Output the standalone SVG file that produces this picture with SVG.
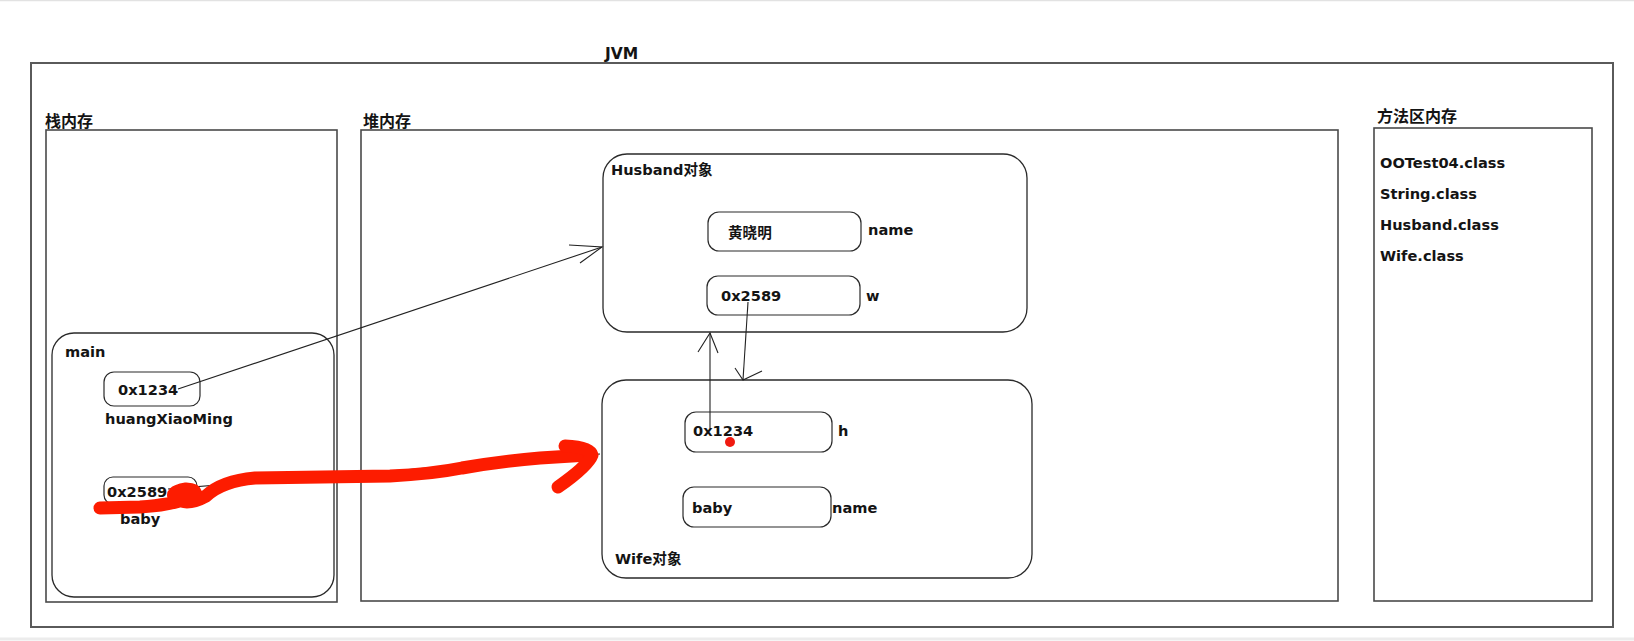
<svg xmlns="http://www.w3.org/2000/svg" width="1634" height="641" viewBox="0 0 1634 641">
<defs>
<style>
.frame{fill:none;stroke:#5a5a5a;stroke-width:2}
.area{fill:none;stroke:#4a4a4a;stroke-width:1.6}
.obj{fill:none;stroke:#2a2a2a;stroke-width:1.3}
.cell{fill:#fff;stroke:#2a2a2a;stroke-width:1.2}
.t{font-family:"DejaVu Sans","Noto Sans CJK SC",sans-serif;font-weight:bold;font-size:14.6px;fill:#141414}
.cn{font-family:"Noto Sans CJK SC","DejaVu Sans",sans-serif;font-weight:bold;font-size:16px;fill:#141414}
.ln{fill:none;stroke:#222;stroke-width:1.1}
.red{fill:none;stroke:#fd1c00;stroke-width:13;stroke-linecap:round;stroke-linejoin:round}
</style>
</defs>
<rect width="1634" height="641" fill="#fff"/>
<line x1="0" y1="0.5" x2="1634" y2="0.5" stroke="#e2e2e2" stroke-width="1.5"/>
<line x1="0" y1="639" x2="1634" y2="639" stroke="#ececec" stroke-width="3"/>

<g id="jvm">
<rect class="frame" x="31" y="63" width="1582" height="564"/>
<text class="t" x="605" y="59" style="font-size:15.5px">JVM</text>
</g>

<g id="stack">
<rect class="area" x="46" y="130" width="291" height="472"/>
<text class="cn" x="45" y="127">栈内存</text>
</g>

<g id="heap">
<rect class="area" x="361" y="130" width="977" height="471"/>
<text class="cn" x="363" y="127">堆内存</text>
</g>

<g id="method-area">
<rect class="area" x="1374" y="128" width="218" height="473"/>
<text class="cn" x="1377" y="122">方法区内存</text>
<text class="t" x="1380" y="168">OOTest04.class</text>
<text class="t" x="1380" y="199">String.class</text>
<text class="t" x="1380" y="230">Husband.class</text>
<text class="t" x="1380" y="261">Wife.class</text>
</g>

<g id="main-frame">
<rect class="obj" x="52" y="333" width="282" height="264" rx="22"/>
<text class="t" x="65" y="357">main</text>
</g>
<g id="var-huangXiaoMing">
<rect class="cell" x="104" y="372" width="96" height="34" rx="10"/>
<text class="t" x="118" y="395">0x1234</text>
<text class="t" x="105" y="424">huangXiaoMing</text>
</g>
<g id="var-baby">
<rect class="cell" x="104" y="477" width="93" height="27" rx="9"/>
<text class="t" x="107" y="497">0x2589</text>
<text class="t" x="120" y="524">baby</text>
</g>

<g id="husband-object">
<rect class="obj" x="603" y="154" width="424" height="178" rx="24"/>
<text class="t" x="611" y="175">Husband对象</text>
<rect class="cell" x="708" y="212" width="153" height="39" rx="11"/>
<text class="t" x="728" y="238">黄晓明</text>
<text class="t" x="868" y="235">name</text>
<rect class="cell" x="707" y="276" width="153" height="39" rx="11"/>
<text class="t" x="721" y="301">0x2589</text>
<text class="t" x="866" y="301">w</text>
</g>

<g id="wife-object">
<rect class="obj" x="602" y="380" width="430" height="198" rx="24"/>
<text class="t" x="615" y="564">Wife对象</text>
<rect class="cell" x="685" y="412" width="147" height="40" rx="11"/>
<text class="t" x="693" y="436">0x1234</text>
<text class="t" x="838" y="436">h</text>
<rect class="cell" x="683" y="487" width="148" height="40" rx="11"/>
<text class="t" x="692" y="513">baby</text>
<text class="t" x="832" y="513">name</text>
</g>

<g id="connectors">
<line class="ln" x1="178" y1="389" x2="602" y2="247"/>
<polyline class="ln" points="569,245 602,247 580,263"/>
<line class="ln" x1="710" y1="428" x2="710" y2="333"/>
<polyline class="ln" points="698,352 710,333 718,353"/>
<line class="ln" x1="748" y1="302" x2="743" y2="380"/>
<polyline class="ln" points="735,368 743,380 762,371"/>
<line class="ln" x1="168" y1="489" x2="600" y2="454"/>
<path class="red" d="M100 508 L140 507 Q172 505 188 498 Q203 490 186 489 Q168 492 176 499 Q188 506 206 496 Q222 481 255 478 L390 476 Q432 474 462 468 Q502 461 540 458 L588 455"/>
<path class="red" d="M565 446 Q590 447 592 455 Q588 466 558 487"/>
<circle cx="730" cy="442" r="5" fill="#f01a10"/>
</g>
</svg>
